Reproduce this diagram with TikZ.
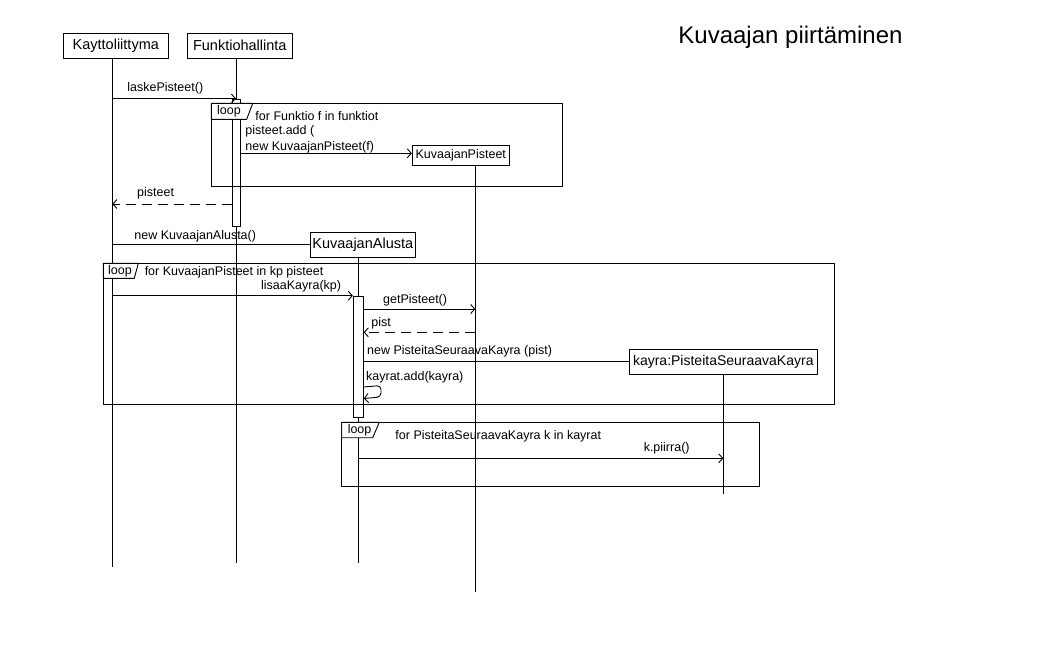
\documentclass[tikz,border=0pt]{standalone}
\usepackage{fontspec}
\setmainfont{Liberation Sans}
\usetikzlibrary{arrows.meta}
\tikzset{
  obj/.style={draw, fill=white, inner sep=0pt, font=\fontsize{14.5}{16}\selectfont},
  lbl/.style={anchor=west, inner sep=0pt, font=\fontsize{12.5}{14}\selectfont},
  actbar/.style={draw, fill=white, inner sep=0pt},
  ret/.style={dash pattern=on 10pt off 6pt},
  looptab/.style={draw, fill=white}
}
\begin{document}
\begin{tikzpicture}[x=1pt, y=-1pt, line width=.9pt, >={Straight Barb[length=4pt,width=9pt]}, line join=round]
\useasboundingbox (0,0) rectangle (1058,661);
\node[lbl, font=\fontsize{24}{28}\selectfont] (title) at (678,37) {Kuvaajan piirtäminen};
\node[obj, minimum width=105, minimum height=25] (kl) at (115.8,45.8) {Kayttoliittyma};
\node[obj, minimum width=105, minimum height=25] (fh) at (239.8,45.8) {Funktiohallinta};
\coordinate (kl-end) at (112.3,566.7);
\coordinate (fh-end) at (236,562.7);
\coordinate (kp-end) at (475.3,591.7);
\coordinate (ka-end) at (358.3,563.3);
\coordinate (kayra-end) at (723.3,494);
\draw (kl.south -| kl-end) -- (kl-end);
\draw (fh.south -| fh-end) -- (fh-end);
\node[obj, font=\fontsize{12.5}{14}\selectfont, minimum width=97, minimum height=19.3] (kp) at (460.8,155.3) {KuvaajanPisteet};
\node[obj, minimum width=104.3, minimum height=25] (ka) at (362.8,244.8) {KuvaajanAlusta};
\node[obj, font=\fontsize{14}{16}\selectfont, minimum width=188, minimum height=24.7] (kayra) at (723.3,361.7) {kayra:PisteitaSeuraavaKayra};
\draw (kp.south -| kp-end) -- (kp-end);
\draw (ka.south -| ka-end) -- (ka-end);
\draw (kayra.south -| kayra-end) -- (kayra-end);
\node[actbar, minimum width=8, minimum height=127] (fh-bar) at (236,162.5) {};
\node[actbar, minimum width=10, minimum height=120.6] (ka-bar) at (358.3,357) {};

\draw (211.3,103.3) rectangle (562.3,186.7);
\draw[looptab] (211.3,103.3) -- (252.7,103.3) -- (246.7,119.3) -- (211.3,119.3) -- cycle;
\node[lbl] (loop1) at (216.7,111) {loop};
\draw (103.3,263.3) rectangle (834,404);
\draw[looptab] (103.3,263.3) -- (138.3,263.3) -- (134.3,278.3) -- (103.3,278.3) -- cycle;
\node[lbl] (loop2) at (107.7,271.5) {loop};
\draw (341.7,422.3) rectangle (759.3,486.7);
\draw[looptab] (341.7,422.3) -- (379.3,422.3) -- (372.7,437.7) -- (341.7,437.7) -- cycle;
\node[lbl] (loop3) at (347.3,430.5) {loop};

\node[lbl] (g1) at (255,115.7) {for Funktio f in funktiot};
\node[lbl] (g2) at (144.3,272.3) {for KuvaajanPisteet in kp pisteet};
\node[lbl] (g3) at (395,436.7) {for PisteitaSeuraavaKayra k in kayrat};

\draw[->] (kl-end |- fh-bar.north) -- (fh-bar.north);
\node[lbl] (m1) at (127,88) {laskePisteet()};
\node[lbl] (m2a) at (245,131.7) {pisteet.add (};
\node[lbl] (m2) at (245,147.3) {new KuvaajanPisteet(f)};
\draw[->] (fh-bar.east |- 0,153.3) -- (kp.west |- 0,153.3);
\draw[->, ret] (fh-bar.west |- 0,204) -- (kl-end |- 0,204);
\node[lbl] (m3) at (136.7,193) {pisteet};
\draw (kl-end |- ka.west) -- (ka.west);
\node[lbl] (m4) at (134,236) {new KuvaajanAlusta()};
\draw[->] (kl-end |- 0,295.7) -- (ka-bar.west |- 0,295.7);
\node[lbl] (m5) at (260.7,286.7) {lisaaKayra(kp)};
\draw[->] (ka-bar.east |- 0,309) -- (kp-end |- 0,309);
\node[lbl] (m6) at (382.7,300) {getPisteet()};
\draw[->, ret] (kp-end |- 0,332.3) -- (ka-bar.east |- 0,332.3);
\node[lbl] (m7) at (371,323.3) {pist};
\draw (ka-bar.east |- kayra.west) -- (kayra.west);
\node[lbl] (m8) at (366.7,351.7) {new PisteitaSeuraavaKayra (pist)};
\node[lbl] (m9) at (365.7,377.7) {kayrat.add(kayra)};
\draw[->, rounded corners=4pt] (ka-bar.east |- 0,387) -- (381,385.5) -- (381,397) -- (ka-bar.east |- 0,398.5);
\draw[->] (ka-end |- 0,458.3) -- (kayra-end |- 0,458.3);
\node[lbl] (m10) at (643.3,448.3) {k.piirra()};
\end{tikzpicture}
\end{document}
